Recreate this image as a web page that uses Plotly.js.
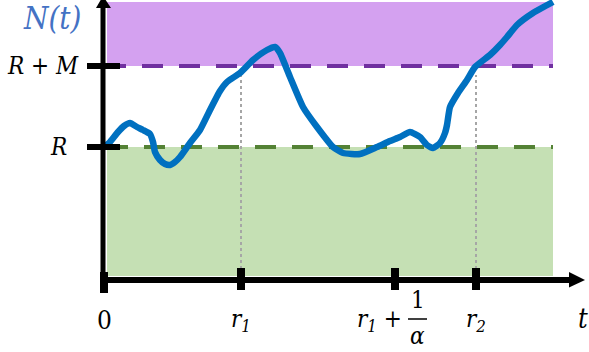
<!DOCTYPE html>
<html>
<head>
<meta charset="utf-8">
<script src="https://cdn.plot.ly/plotly-3.0.1.min.js"></script>
<style>html,body{margin:0;padding:0;background:#fff;}#chart{width:589px;height:352px;}</style>
</head>
<body>
<div id="chart"></div>
<script>
// ---- data ----
const curveT = [0,0.6,1.4,2.0,2.6,3.3,3.9,4.6,4.9,5.1,5.6,6.1,6.6,7.1,7.6,8.6,9.6,10.6,11.6,12.3,13.6,14.9,16.3,17.1,17.6,18.6,19.9,21.3,22.9,23.9,25.6,27.3,28.6,29.6,30.6,31.6,32.3,32.9,33.6,34.1,34.3,34.6,35.4,36.3,37.1,38.6,39.6,40.3,41.3,42.9,44.9];
const curveN = [13.3,13.8,14.8,15.4,15.7,15.3,15.0,14.6,13.8,12.8,12.0,11.6,11.5,11.8,12.3,13.7,15.0,17.0,18.9,19.8,20.7,22.0,23.0,23.3,22.7,20.3,17.3,15.3,13.3,12.7,12.6,13.3,13.9,14.3,14.8,14.3,13.5,13.2,13.7,14.7,15.5,17.3,18.7,20.0,21.3,22.5,23.5,24.3,25.5,26.7,27.8];
const levelR = 13.3;
const levelRM = 21.4;
const yTickVals = [levelR, levelRM];
const yTickLabels = ["R", "R + M"];
const xTickVals = [0, 13.7, 29.1, 37.2];   // 0, r1, r1+1/alpha, r2
const xTickLabels = ["0", "r<sub>1</sub>", "r<sub>1</sub> +", "r<sub>2</sub>"];
const dottedTops = [20.7, 20.5];           // curve height at r1, r2
const regionEnd = 44.9;
const topN = 27.8;

// ---- styling ----
const serif = "'DejaVu Serif Condensed', 'DejaVu Serif', serif";
const fs = 24;
const shapes = [];
shapes.push({type:"rect", xref:"x", yref:"y", x0:0.3, x1:regionEnd, y0:levelRM, y1:topN, fillcolor:"#D4A1F0", line:{width:0}, layer:"below"});
shapes.push({type:"rect", xref:"x", yref:"y", x0:0.3, x1:regionEnd, y0:0.4, y1:levelR, fillcolor:"#C5E0B4", line:{width:0}, layer:"below"});
[xTickVals[1], xTickVals[3]].forEach((xv, i) => {
  shapes.push({type:"line", xref:"x", yref:"y", x0:xv, x1:xv, y0:1.1, y1:dottedTops[i], line:{color:"#A6A6A6", width:2, dash:"dot"}, layer:"below"});
});
shapes.push({type:"line", xref:"x", yref:"y", x0:0.1, x1:regionEnd, y0:levelRM, y1:levelRM, line:{color:"#7030A0", width:4, dash:"21px,16px"}, layer:"below"});
shapes.push({type:"line", xref:"x", yref:"y", x0:0.3, x1:regionEnd, y0:levelR, y1:levelR, line:{color:"#548235", width:4, dash:"21px,16px"}, layer:"below"});
shapes.push({type:"line", xref:"x", yref:"y", x0:-0.1, x1:-0.1, y0:0.8, y1:27.3, line:{color:"#000", width:5}});
shapes.push({type:"line", xref:"x", yref:"y", x0:-0.1, x1:46.7, y0:0, y1:0, line:{color:"#000", width:6}});
shapes.push({type:"path", xref:"x", yref:"y", path:"M 46.5 0.8 L 48.1 0 L 46.5 -0.75 Z", fillcolor:"#000", line:{width:0}});
shapes.push({type:"path", xref:"x", yref:"y", path:"M -0.8 27.2 L -0.1 28.4 L 0.7 27.2 Z", fillcolor:"#000", line:{width:0}});
yTickVals.forEach(v => shapes.push({type:"line", xref:"x", yref:"y", x0:-1.7, x1:1.6, y0:v, y1:v, line:{color:"#000", width:6}}));
xTickVals.forEach((v, i) => shapes.push({type:"line", xref:"x", yref:"y", x0:v, x1:v, y0:i===0?0.8:1.2, y1:i===0?-1.3:-1.0, line:{color:"#000", width:8}}));
shapes.push({type:"line", xref:"x", yref:"y", x0:30.4, x1:32.3, y0:-3.9, y1:-3.9, line:{color:"#000", width:1.5}});

const ann = [];
const lab = (x, y, text, size, italic, extra) => Object.assign({
  x:x, y:y, xref:"x", yref:"y", text: italic ? "<i>" + text + "</i>" : text, showarrow:false,
  font:{family: serif, size: size, color: "#000"}
}, extra || {});
ann.push(lab(-5.2, 26.2, "N(t)", 31, true, {font:{family:serif, size:31, color:"#4472C4"}}));
ann.push(lab(-2.3, yTickVals[1], yTickLabels[1], fs, true, {xanchor:"right"}));
ann.push(lab(-3.5, yTickVals[0], yTickLabels[0], fs, true, {xanchor:"right"}));
ann.push(lab(xTickVals[0], -4.0, xTickLabels[0], 26, false));
ann.push(lab(xTickVals[1], -4.0, xTickLabels[1], fs, true));
ann.push(lab(30.0, -4.0, xTickLabels[2], fs, true, {xanchor:"right"}));
ann.push(lab(31.35, -2.0, "1", fs, false));
ann.push(lab(31.35, -5.6, "α", fs, true));
ann.push(lab(xTickVals[3], -4.0, xTickLabels[3], fs, true));
ann.push(lab(47.9, -3.8, "t", 27, true));

const trace = {x: curveT, y: curveN, type:"scatter", mode:"lines", line:{color:"#0070C0", width:6.5, shape:"spline", smoothing:0.5}, hoverinfo:"skip"};

Plotly.newPlot("chart", [trace], {
  width:589, height:352,
  margin:{l:0, r:0, t:0, b:0, pad:0},
  paper_bgcolor:"#fff", plot_bgcolor:"rgba(0,0,0,0)",
  showlegend:false,
  xaxis:{range:[-10.4, 48.5], visible:false, fixedrange:true},
  yaxis:{range:[-7.2, 28.0], visible:false, fixedrange:true},
  shapes: shapes,
  annotations: ann
}, {staticPlot:true, displayModeBar:false});
</script>
</body>
</html>
